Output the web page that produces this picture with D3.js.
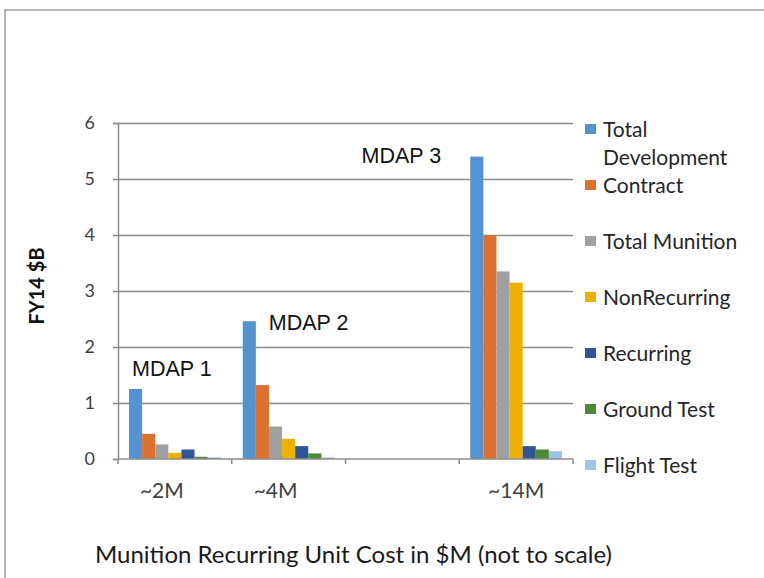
<!DOCTYPE html>
<meta charset="utf-8">
<style>
body { margin: 0; background: #fff; }
svg { display: block; font-family: Lato, "Open Sans", sans-serif; }
.grid line { stroke: #8c8c8c; stroke-width: 1.5px; }
.grid path { stroke: none; }
.axis text { fill: #404040; }
.axis path, .axis line { stroke: #8c8c8c; stroke-width: 1.5px; }
.legend text { fill: #262626; font-size: 21px; }
.mdap { font-family: "Liberation Sans", Arial, sans-serif; font-size: 21.5px; fill: #111; }
</style>
<body>
<script src="https://d3js.org/d3.v7.min.js"></script>
<script>

// categories on the x axis (third slot is left empty in the original)
var categories = ["~2M", "~4M", "", "~14M"];

var seriesNames = ["Total Development", "Contract", "Total Munition", "NonRecurring",
                   "Recurring", "Ground Test", "Flight Test"];

var seriesColors = ["#5592cf", "#dd7230", "#a0a0a0", "#edb000", "#2f5597", "#4e8a35", "#9dc3e6"];

// values in FY14 $B, one array per category
var mdap1 = [1.25, 0.45, 0.26, 0.11, 0.17, 0.04, 0.03];
var mdap2 = [2.46, 1.32, 0.58, 0.36, 0.23, 0.10, 0.03];
var empty = [0, 0, 0, 0, 0, 0, 0];
var mdap3 = [5.40, 3.99, 3.35, 3.15, 0.23, 0.17, 0.14];

var yTicks = [0, 1, 2, 3, 4, 5, 6];

// annotation labels, anchored in data units
var notes = [
  {text: "MDAP 1", cat: "~2M", value: 1.48, dx: 14},
  {text: "MDAP 2", cat: "~4M", value: 2.30, dx: 37},
  {text: "MDAP 3", cat: "", value: 5.29, dx: 16}
];

var groups = [mdap1, mdap2, empty, mdap3];

var width = 764, height = 578;

var svg = d3.select("body").append("svg")
    .attr("width", width)
    .attr("height", height);

// chart frame
svg.append("rect")
    .attr("x", 5).attr("y", 10)
    .attr("width", width + 10).attr("height", height + 10)
    .attr("fill", "#fff")
    .attr("stroke", "#9a9a9a")
    .attr("stroke-width", 1.5);

var x0 = d3.scaleBand().domain(categories).range([118, 573]);
var x1 = d3.scaleBand().domain(seriesNames).range([11, x0.bandwidth() - 11]);
var y = d3.scaleLinear().domain([0, 6]).range([459, 123]);

// gridlines
svg.append("g")
    .attr("class", "grid")
    .attr("transform", "translate(118,0)")
    .call(d3.axisRight(y).tickValues(yTicks.slice(1)).tickSize(573 - 118).tickFormat(""));

// y axis
var yAxis = svg.append("g")
    .attr("class", "axis")
    .attr("transform", "translate(118,0)")
    .call(d3.axisLeft(y).tickValues(yTicks).tickSize(5).tickPadding(18).tickFormat(d3.format("d")));
yAxis.selectAll("text").attr("font-size", 18).attr("font-family", "Lato, sans-serif");

// bars
var cat = svg.append("g").selectAll("g")
    .data(groups)
    .join("g")
    .attr("transform", function(d, i) { return "translate(" + x0(categories[i]) + ",0)"; });

cat.selectAll("rect")
    .data(function(d) { return d.map(function(v, j) { return {key: seriesNames[j], value: v, color: seriesColors[j]}; }); })
    .join("rect")
    .attr("x", function(d) { return x1(d.key); })
    .attr("width", x1.bandwidth())
    .attr("y", function(d) { return y(d.value); })
    .attr("height", function(d) { return y(0) - y(d.value); })
    .attr("fill", function(d) { return d.color; });

// x axis with boundary ticks
var xAxis = svg.append("g")
    .attr("class", "axis")
    .attr("transform", "translate(0," + y(0) + ")");

xAxis.append("line")
    .attr("x1", 118).attr("x2", 573);

xAxis.selectAll(".sep")
    .data(categories.map(function(c) { return x0(c); }).concat([573]))
    .join("line")
    .attr("class", "sep")
    .attr("x1", function(d) { return d; })
    .attr("x2", function(d) { return d; })
    .attr("y1", 0).attr("y2", 5);

xAxis.selectAll(".lbl")
    .data(categories)
    .join("text")
    .attr("class", "lbl")
    .attr("x", function(d) { return x0(d) + x0.bandwidth() / 2 + (d === "~14M" ? 0 : -13); })
    .attr("y", 39)
    .attr("text-anchor", "middle")
    .attr("font-size", 21)
    .text(function(d) { return d; });

// annotations
svg.selectAll(".mdap")
    .data(notes)
    .join("text")
    .attr("class", "mdap")
    .attr("x", function(d) { return x0(d.cat) + d.dx; })
    .attr("y", function(d) { return y(d.value); })
    .text(function(d) { return d.text; });

// legend
var legendLabels = [["Total", "Development"], ["Contract"], ["Total Munition"], ["NonRecurring"],
                    ["Recurring"], ["Ground Test"], ["Flight Test"]];

var legend = svg.append("g").attr("class", "legend")
    .selectAll("g")
    .data(seriesNames)
    .join("g")
    .attr("transform", function(d, i) { return "translate(585," + y(6 - i) + ")"; });

legend.append("rect")
    .attr("x", 0).attr("y", 1)
    .attr("width", 11).attr("height", 10)
    .attr("fill", function(d, i) { return seriesColors[i]; });

legend.append("text")
    .attr("x", 18)
    .attr("y", 14)
    .selectAll("tspan")
    .data(function(d, i) { return legendLabels[i]; })
    .join("tspan")
    .attr("x", 18)
    .attr("dy", function(d, k) { return k === 0 ? 0 : 28; })
    .text(function(d) { return d; });

// axis titles
svg.append("text")
    .attr("transform", "translate(44,286) rotate(-90)")
    .attr("text-anchor", "middle")
    .attr("font-weight", "bold")
    .attr("font-size", 20)
    .attr("fill", "#111")
    .text("FY14 $B");

svg.append("text")
    .attr("x", 95)
    .attr("y", 563)
    .attr("font-size", 24)
    .attr("fill", "#1a1a1a")
    .text("Munition Recurring Unit Cost in $M (not to scale)");

</script>
</body>
